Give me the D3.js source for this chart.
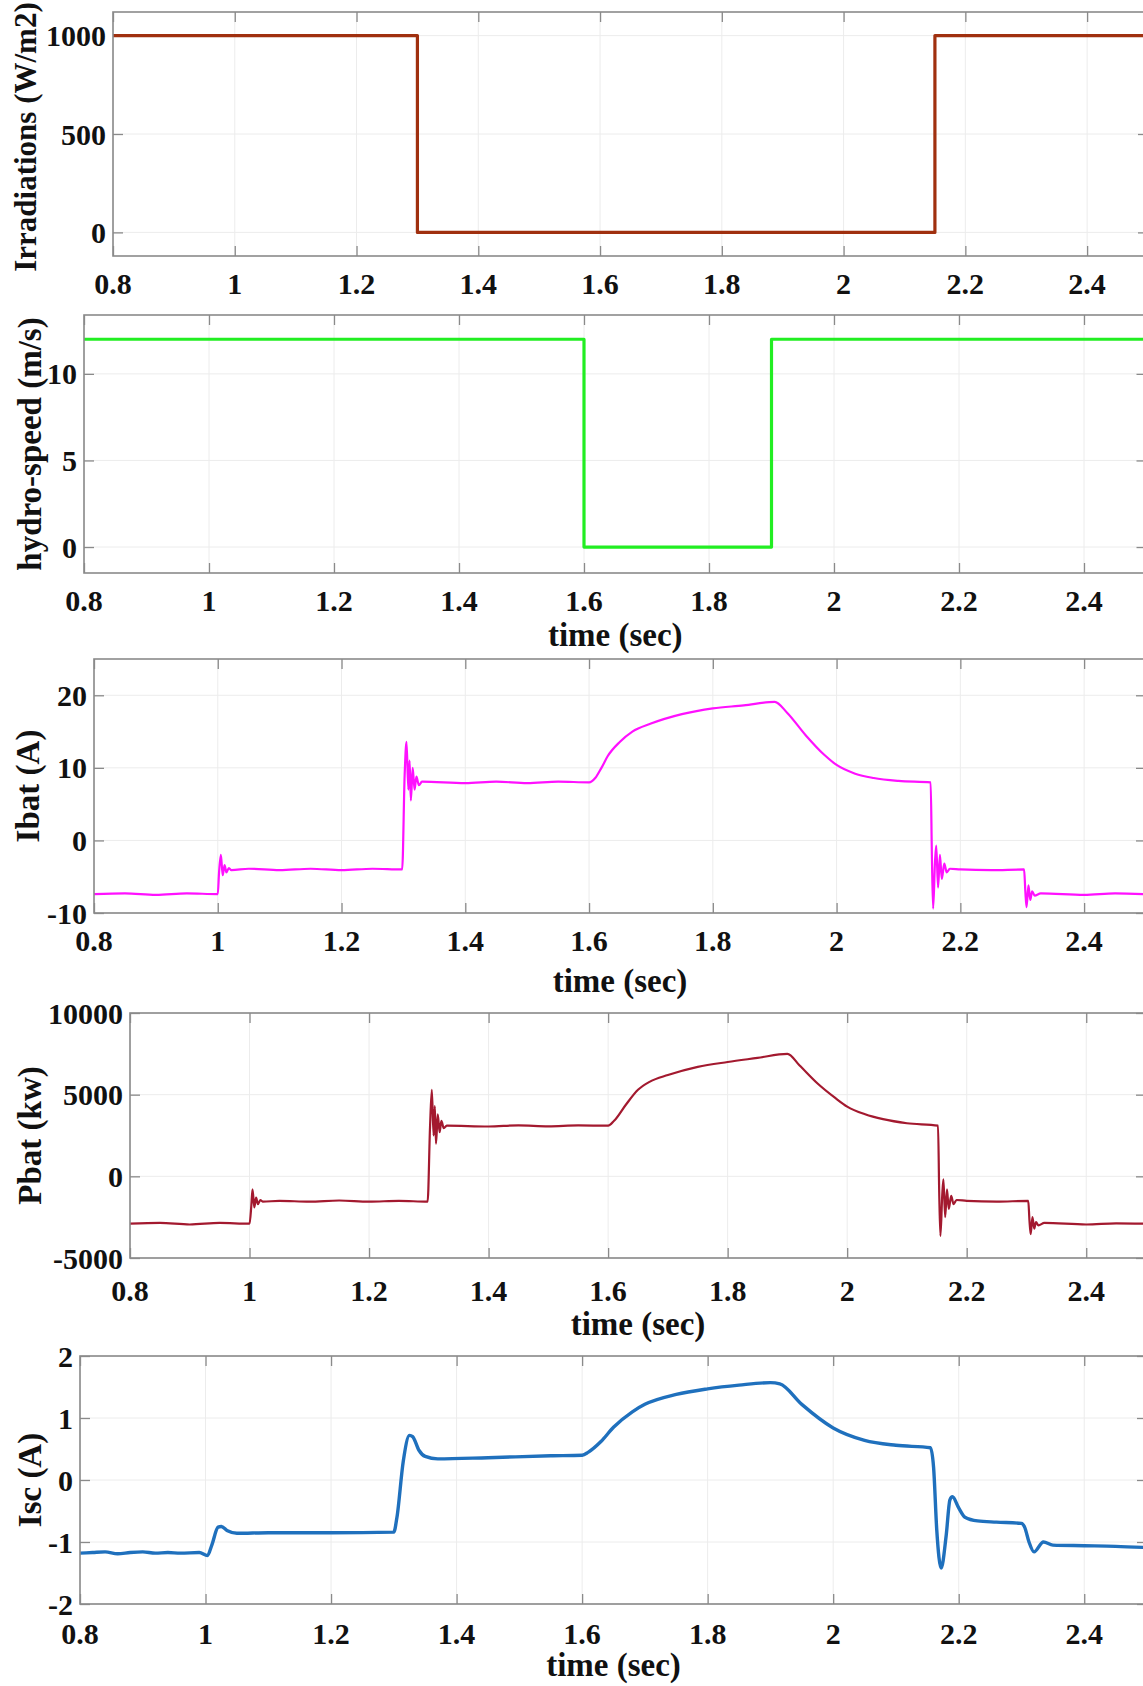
<!DOCTYPE html>
<html>
<head>
<meta charset="utf-8">
<script src="https://cdn.jsdelivr.net/npm/d3@7"></script>
<style>
  html, body { margin: 0; padding: 0; background: #ffffff; }
  svg { display: block; }
  text { font-family: "Liberation Serif", "Times New Roman", serif; font-weight: bold; fill: #111; }
</style>
</head>
<body>
<svg id="fig" width="1143" height="1686"></svg>
<script>
// ---- shared time axis ----
const xTicks = [0.8, 1, 1.2, 1.4, 1.6, 1.8, 2, 2.2, 2.4];
const xTickLabels = ["0.8", "1", "1.2", "1.4", "1.6", "1.8", "2", "2.2", "2.4"];
const timeLabel = "time (sec)";

// ---- irradiation step (W/m2) ----
const irrT = [0.8, 1.3, 1.3, 2.15, 2.15, 2.5];
const irrV = [1000, 1000, 0, 0, 1000, 1000];
const irrTicks = [0, 500, 1000];
const irrTickLabels = ["0", "500", "1000"];

// ---- hydro speed step (m/s) ----
const hydT = [0.8, 1.6, 1.6, 1.9, 1.9, 2.5];
const hydV = [12, 12, 0, 0, 12, 12];
const hydTicks = [0, 5, 10];
const hydTickLabels = ["0", "5", "10"];

// ---- battery current (A) ----
const ibatT = [0.80, 0.85, 0.90, 0.95, 1.000, 1.002, 1.005, 1.008, 1.011, 1.014, 1.018, 1.022,
  1.05, 1.10, 1.15, 1.20, 1.25, 1.298, 1.302, 1.305, 1.308, 1.310, 1.312, 1.315, 1.318, 1.321,
  1.325, 1.33, 1.40, 1.45, 1.50, 1.55, 1.60, 1.61, 1.62, 1.63, 1.65, 1.67, 1.70, 1.75, 1.80,
  1.85, 1.90, 1.92, 1.95, 1.98, 2.00, 2.03, 2.06, 2.10, 2.152, 2.154, 2.156, 2.159, 2.161,
  2.164, 2.167, 2.170, 2.174, 2.178, 2.183, 2.20, 2.25, 2.303, 2.305, 2.307, 2.310, 2.313,
  2.316, 2.320, 2.33, 2.40, 2.45, 2.50];
const ibatV = [-7.4, -7.3, -7.5, -7.3, -7.4, -4.5, -2.0, -4.8, -3.4, -4.4, -3.8, -4.1,
  -3.9, -4.1, -3.9, -4.1, -3.9, -4.0, 9.0, 13.6, 7.0, 11.0, 5.5, 10.0, 7.0, 8.8,
  7.6, 8.1, 7.9, 8.1, 7.9, 8.1, 8.0, 8.6, 10.0, 11.6, 13.6, 15.0, 16.1, 17.4, 18.2,
  18.6, 19.1, 17.6, 14.5, 11.8, 10.4, 9.2, 8.6, 8.2, 8.0, -2.0, -9.4, -3.0, -0.7,
  -6.5, -2.0, -5.3, -3.2, -4.4, -3.9, -4.0, -4.1, -4.0, -7.0, -9.2, -6.2, -8.2,
  -7.0, -7.6, -7.3, -7.5, -7.3, -7.4];
const ibatTicks = [-10, 0, 10, 20];
const ibatTickLabels = ["-10", "0", "10", "20"];

// ---- battery power (kW) ----
const pbatT = [0.80, 0.85, 0.90, 0.95, 1.000, 1.003, 1.005, 1.008, 1.011, 1.014, 1.018, 1.022,
  1.05, 1.10, 1.15, 1.20, 1.25, 1.298, 1.302, 1.305, 1.308, 1.310, 1.312, 1.315, 1.318, 1.321,
  1.325, 1.33, 1.40, 1.45, 1.50, 1.55, 1.60, 1.61, 1.63, 1.65, 1.67, 1.70, 1.75, 1.80, 1.85,
  1.90, 1.92, 1.95, 1.98, 2.00, 2.03, 2.06, 2.10, 2.152, 2.154, 2.156, 2.159, 2.161, 2.164,
  2.167, 2.170, 2.174, 2.178, 2.183, 2.20, 2.25, 2.303, 2.305, 2.307, 2.310, 2.313, 2.316,
  2.320, 2.33, 2.40, 2.45, 2.50];
const pbatV = [-2900, -2850, -2950, -2850, -2900, -1800, -800, -1900, -1300, -1700, -1450, -1550,
  -1500, -1550, -1480, -1550, -1500, -1550, 3000, 5300, 2500, 4300, 2000, 3800, 2700, 3400,
  2950, 3100, 3050, 3120, 3060, 3120, 3100, 3400, 4400, 5300, 5800, 6200, 6700, 7000, 7250,
  7500, 6800, 5700, 4800, 4270, 3800, 3500, 3250, 3100, -1000, -3650, -1200, -180, -2500,
  -800, -2000, -1200, -1700, -1450, -1500, -1550, -1500, -2700, -3540, -2500, -3200, -2800,
  -3000, -2850, -2950, -2880, -2900];
const pbatTicks = [-5000, 0, 5000, 10000];
const pbatTickLabels = ["-5000", "0", "5000", "10000"];

// ---- supercapacitor current (A) ----
const iscT = [0.80, 0.82, 0.84, 0.86, 0.88, 0.90, 0.92, 0.94, 0.96, 0.99, 1.003, 1.01, 1.02,
  1.025, 1.035, 1.05, 1.10, 1.20, 1.30, 1.305, 1.315, 1.325, 1.33, 1.34, 1.35, 1.37, 1.45,
  1.55, 1.60, 1.61, 1.63, 1.65, 1.68, 1.70, 1.75, 1.80, 1.85, 1.90, 1.915, 1.95, 2.00, 2.05,
  2.10, 2.155, 2.16, 2.165, 2.172, 2.18, 2.186, 2.19, 2.20, 2.21, 2.23, 2.26, 2.30, 2.305,
  2.312, 2.32, 2.335, 2.35, 2.40, 2.45, 2.50];
const iscV = [-1.18, -1.17, -1.16, -1.19, -1.17, -1.16, -1.18, -1.17, -1.18, -1.17, -1.22, -1.05,
  -0.76, -0.75, -0.82, -0.86, -0.85, -0.85, -0.84, -0.6, 0.3, 0.72, 0.70, 0.48, 0.38, 0.34, 0.36,
  0.39, 0.40, 0.45, 0.62, 0.85, 1.10, 1.22, 1.38, 1.47, 1.53, 1.57, 1.55, 1.22, 0.84, 0.64,
  0.56, 0.52, 0.2, -0.8, -1.42, -0.9, -0.32, -0.27, -0.45, -0.6, -0.66, -0.68, -0.70, -0.76,
  -1.0, -1.16, -1.0, -1.05, -1.06, -1.07, -1.09];
const iscTicks = [-2, -1, 0, 1, 2];
const iscTickLabels = ["-2", "-1", "0", "1", "2"];

// ---- panel layout ----
const panels = [
  { t: irrT, v: irrV, yDom: [-120, 1120], yTicks: irrTicks, yLabels: irrTickLabels,
    ylabel: "Irradiations (W/m2)", color: "#a0300f", width: 3.2,
    box: { l: 113, r: 1148, t: 12, b: 256 }, xlabY: 283, tlabY: null,
    ylabX: 25, ylabY: 137, ylabFont: 31, curve: d3.curveLinear },
  { t: hydT, v: hydV, yDom: [-1.5, 13.4], yTicks: hydTicks, yLabels: hydTickLabels,
    ylabel: "hydro-speed (m/s)", color: "#22ee22", width: 3.2,
    box: { l: 84, r: 1146.5, t: 315, b: 573 }, xlabY: 600, tlabY: 634, ylabX: 29, curve: d3.curveLinear },
  { t: ibatT, v: ibatV, yDom: [-10, 25], yTicks: ibatTicks, yLabels: ibatTickLabels,
    ylabel: "Ibat (A)", color: "#ff10ff", width: 2.2,
    box: { l: 94, r: 1146, t: 659, b: 913 }, xlabY: 940, tlabY: 980, ylabX: 27, curve: d3.curveMonotoneX },
  { t: pbatT, v: pbatV, yDom: [-5000, 10000], yTicks: pbatTicks, yLabels: pbatTickLabels,
    ylabel: "Pbat (kw)", color: "#a3192f", width: 2.2,
    box: { l: 130, r: 1146, t: 1013, b: 1258 }, xlabY: 1290, tlabY: 1323, ylabX: 29, curve: d3.curveMonotoneX },
  { t: iscT, v: iscV, yDom: [-2, 2], yTicks: iscTicks, yLabels: iscTickLabels,
    ylabel: "Isc (A)", color: "#1f70bd", width: 3.4,
    box: { l: 80, r: 1147, t: 1356, b: 1604 }, xlabY: 1633, tlabY: 1664, ylabX: 29,
    curve: d3.curveMonotoneX }
];

const svg = d3.select("#fig");
const tickFont = 30, labelFont = 33, tickLen = 10;
const gridColor = "#ececec", frameColor = "#8a8a8a";

panels.forEach((p, i) => {
  const { l, r, t, b } = p.box;
  const x = d3.scaleLinear().domain([0.8, 2.5]).range([l, r]);
  const y = d3.scaleLinear().domain(p.yDom).range([b, t]);
  const g = svg.append("g");

  // grid
  const grid = g.append("g");
  grid.selectAll("line.gx").data(xTicks).join("line")
    .attr("x1", d => x(d)).attr("x2", d => x(d)).attr("y1", t).attr("y2", b)
    .attr("stroke", gridColor).attr("stroke-width", 1);
  grid.selectAll("line.gy").data(p.yTicks).join("line")
    .attr("x1", l).attr("x2", r).attr("y1", d => y(d)).attr("y2", d => y(d))
    .attr("stroke", gridColor).attr("stroke-width", 1);

  // inward ticks on all four sides
  const axB = d3.axisBottom(x).tickValues(xTicks).tickSize(-tickLen).tickFormat("");
  const axT = d3.axisTop(x).tickValues(xTicks).tickSize(-tickLen).tickFormat("");
  const axL = d3.axisLeft(y).tickValues(p.yTicks).tickSize(-tickLen).tickFormat("");
  const axR = d3.axisRight(y).tickValues(p.yTicks).tickSize(-tickLen).tickFormat("");
  [[axB, `translate(0,${b})`], [axT, `translate(0,${t})`], [axL, `translate(${l},0)`], [axR, `translate(${r},0)`]]
    .forEach(([ax, tr]) => {
      const a = g.append("g").attr("transform", tr).call(ax);
      a.select(".domain").remove();
      a.selectAll(".tick line").attr("stroke", frameColor).attr("stroke-width", 1.3);
    });

  // data line
  const clipId = "clip" + i;
  g.append("clipPath").attr("id", clipId).append("rect")
    .attr("x", l).attr("y", t - 2).attr("width", r - l).attr("height", b - t + 4);
  const line = d3.line().x(d => x(d[0])).y(d => y(d[1])).curve(p.curve);
  g.append("path")
    .datum(p.t.map((tt, k) => [tt, p.v[k]]))
    .attr("clip-path", `url(#${clipId})`)
    .attr("d", line)
    .attr("fill", "none")
    .attr("stroke", p.color)
    .attr("stroke-width", p.width)
    .attr("stroke-linejoin", "round");

  // frame
  g.append("rect").attr("x", l).attr("y", t).attr("width", r - l).attr("height", b - t)
    .attr("fill", "none").attr("stroke", frameColor).attr("stroke-width", 1.6);

  // tick labels
  g.selectAll("text.xl").data(xTicks).join("text")
    .attr("x", d => x(d)).attr("y", p.xlabY).attr("dy", "0.35em")
    .attr("text-anchor", "middle").style("font-size", tickFont + "px")
    .text((d, k) => xTickLabels[k]);
  g.selectAll("text.yl").data(p.yTicks).join("text")
    .attr("x", l - 7).attr("y", d => y(d)).attr("dy", "0.35em")
    .attr("text-anchor", "end").style("font-size", tickFont + "px")
    .text((d, k) => p.yLabels[k]);

  // axis titles
  const ylabY = p.ylabY !== undefined ? p.ylabY : (t + b) / 2;
  const ylabFont = p.ylabFont || labelFont;
  g.append("text")
    .attr("transform", `translate(${p.ylabX},${ylabY}) rotate(-90)`)
    .attr("dy", "0.35em").attr("text-anchor", "middle")
    .style("font-size", ylabFont + "px").text(p.ylabel);
  if (p.tlabY !== null) {
    g.append("text").attr("x", (l + r) / 2).attr("y", p.tlabY).attr("dy", "0.35em")
      .attr("text-anchor", "middle").style("font-size", labelFont + "px").text(timeLabel);
  }
});
</script>
</body>
</html>
